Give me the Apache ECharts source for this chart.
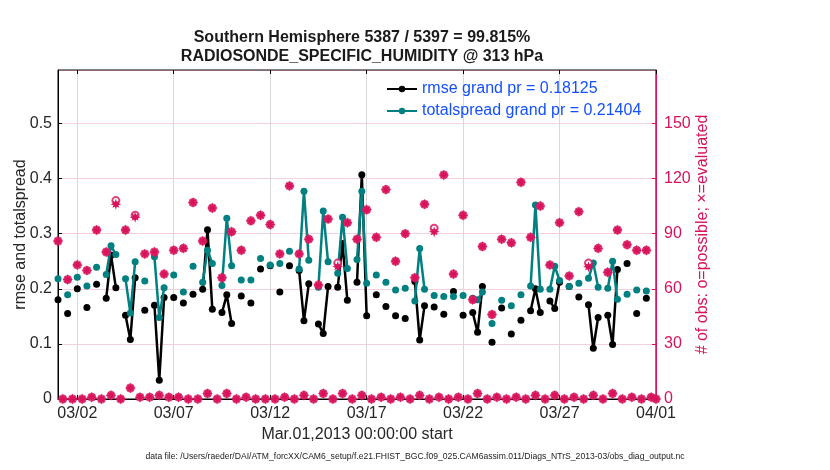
<!DOCTYPE html>
<html><head><meta charset="utf-8">
<script src="https://cdn.jsdelivr.net/npm/echarts@6/dist/echarts.min.js"></script>
<style>html,body{margin:0;padding:0;background:#fff}#c{width:830px;height:470px}</style>
</head><body><div id="c"></div>
<script>
// x axis: days since Mar.01,2013 00:00:00
const xTickDays = [1, 6, 11, 16, 21, 26, 31];
const xTickLabels = ['03/02', '03/07', '03/12', '03/17', '03/22', '03/27', '04/01'];
const leftTicks = [0, 0.1, 0.2, 0.3, 0.4, 0.5];
const rightTicks = [0, 30, 60, 90, 120, 150];

// 00Z / 12Z bins (Mar 1 00Z ... Apr 1 00Z)
const rmseMain = [0.180,0.155,0.200,0.166,0.208,0.183,0.202,0.152,0.220,0.161,
  0.170,0.184,0.184,0.174,0.190,0.199,0.163,0.157,0.137,0.187,
  0.174,0.236,0.242,0.194,0.242,0.233,0.209,0.136,0.204,0.203,
  0.179,0.212,0.151,0.189,0.168,0.151,0.146,0.213,0.169,0.167,
  0.154,0.195,0.152,0.157,0.204,0.103,0.165,0.118,0.143,0.160,
  0.157,0.178,0.212,0.204,0.185,0.171,0.148,0.152,0.235,0.246,
  0.155,0.183,null];
const spreadMain = [0.218,0.189,0.221,0.205,0.239,0.226,0.262,0.218,0.249,0.214,
  0.258,0.202,0.225,0.194,0.241,0.212,0.246,0.206,0.242,0.216,
  0.216,0.255,0.243,0.246,0.268,0.236,0.252,0.203,0.249,0.228,
  0.237,0.253,0.210,0.225,0.212,0.198,0.201,0.178,0.199,0.188,
  0.186,0.186,0.188,0.183,0.194,0.137,0.179,0.169,0.189,0.205,
  0.199,0.199,0.215,0.204,0.210,0.219,0.203,0.201,0.181,0.190,
  0.198,0.196,null];
const nEvalMain = [86,65,73,70,92,80,106,92,99,79,
  80,68,81,82,107,86,104,66,91,81,
  97,100,95,79,116,79,87,62,98,72,
  96,87,103,88,114,75,90,66,106,91,
  122,68,100,54,83,46,87,85,118,88,
  105,73,96,67,102,72,82,69,92,84,
  81,81,0];
const nPossMain = [86,65,73,70,92,80,108,92,100,79,
  80,68,81,82,107,86,104,66,91,81,
  97,100,95,79,116,79,87,62,98,74,
  96,87,103,88,114,75,90,66,106,93,
  122,68,100,54,83,46,87,85,118,88,
  105,73,96,67,102,74,82,69,92,84,
  81,81,0];

// 06Z / 18Z bins (Mar 1 06Z ... Mar 31 18Z)
const rmseOff = [null,null,null,null,null,0.261,null,0.108,null,null,
  0.034,null,null,null,null,0.307,null,0.189,null,null,
  null,null,null,null,null,0.142,null,0.119,null,0.282,
  null,0.407,null,null,null,null,null,0.107,null,null,
  null,null,null,0.121,null,null,null,null,null,0.200,
  null,0.164,null,null,null,0.092,null,0.099,null,null,
  null,null];
const spreadOff = [null,null,null,null,null,0.278,null,0.156,null,null,
  0.148,null,null,null,null,0.270,null,0.328,null,null,
  null,null,null,null,null,0.377,null,0.341,null,0.330,
  null,0.377,null,null,null,null,null,0.273,null,null,
  null,null,null,0.180,null,null,null,null,null,0.352,
  null,0.241,null,null,null,0.247,null,0.250,null,null,
  null,null];
const nEvalOff = [0,0,0,1,0,2,0,6,1,1,
  2,1,1,0,0,3,0,3,0,1,
  0,0,0,1,0,2,0,3,0,3,
  0,2,0,1,0,1,0,2,0,1,
  0,1,0,3,0,1,0,1,0,2,
  0,2,0,1,0,2,0,3,0,1,
  0,1];
const nPossOff = nEvalOff;

const binDays = 0.25;
function merge(main, off) {
  const out = [];
  const n = main.length + off.length;
  for (let k = 0; k < n; k++) {
    const v = (k % 2 === 0) ? main[k / 2] : off[(k - 1) / 2];
    out.push([k * binDays, v]);
  }
  return out;
}

const PINK = '#d8135c';
const TEAL = '#008080';
const TXT = '#262626';
const starPath = 'path://M5,0 L5.9,2.8 L8.2,1.8 L7.2,4.1 L10,5 L7.2,5.9 L8.2,8.2 L5.9,7.2 L5,10 L4.1,7.2 L1.8,8.2 L2.8,5.9 L0,5 L2.8,4.1 L1.8,1.8 L4.1,2.8 Z';

const chart = echarts.init(document.getElementById('c'), null, {renderer: 'canvas'});
const FONT = 'Liberation Sans, Arial, Helvetica, sans-serif';

chart.setOption({
  animation: false,
  backgroundColor: '#fff',
  textStyle: {fontFamily: FONT},
  title: {
    text: 'Southern Hemisphere 5387 / 5397 = 99.815%\nRADIOSONDE_SPECIFIC_HUMIDITY @ 313 hPa',
    left: 357, textAlign: 'center', top: 23,
    textStyle: {fontSize: 16, fontWeight: 'bold', color: '#1a1a1a', lineHeight: 19, fontFamily: FONT}
  },
  legend: {
    orient: 'vertical', left: 386, top: 81, itemWidth: 30, itemHeight: 8, itemGap: 6, padding: 0,
    data: ['rmse grand pr = 0.18125', 'totalspread grand pr = 0.21404'],
    textStyle: {color: '#1450ff', fontSize: 16, fontFamily: FONT}
  },
  grid: {left: 58, right: 174, top: 70, bottom: 71, show: true, borderColor: '#000', borderWidth: 1, backgroundColor: 'transparent'},
  xAxis: [{
    type: 'value', min: 0, max: 31, position: 'bottom',
    axisLine: {onZero: false, lineStyle: {color: '#000'}},
    axisTick: {inside: true, length: 4, customValues: xTickDays, lineStyle: {color: '#000'}},
    axisLabel: {customValues: xTickDays, fontSize: 16, color: TXT, margin: 7,
      formatter: v => xTickLabels[xTickDays.indexOf(Math.round(v))] || ''},
    splitLine: {show: true, lineStyle: {color: '#d9d9d9', width: 1}},
    name: 'Mar.01,2013 00:00:00 start', nameLocation: 'middle', nameGap: 28,
    nameTextStyle: {fontSize: 16, color: TXT}
  }, {
    type: 'value', min: 0, max: 31, position: 'top',
    axisLine: {show: false, onZero: false},
    axisTick: {inside: true, length: 4, customValues: xTickDays, lineStyle: {color: '#000'}},
    axisLabel: {show: false}, splitLine: {show: false}
  }],
  yAxis: [{
    type: 'value', min: 0, max: 0.597, interval: 0.1, position: 'left',
    axisLine: {show: true, onZero: false, lineStyle: {color: '#000'}},
    axisTick: {show: true, inside: true, length: 4, lineStyle: {color: '#000'}},
    axisLabel: {fontSize: 16, color: TXT, margin: 6, showMaxLabel: false,
      formatter: v => { const t = leftTicks.find(x => Math.abs(x - v) < 1e-6); return t === undefined ? '' : String(t); }},
    splitLine: {show: true, lineStyle: {color: 'rgba(216,19,92,0.2)', width: 1}},
    name: 'rmse and totalspread', nameLocation: 'middle', nameGap: 29, nameMoveOverlap: false,
    nameTextStyle: {fontSize: 16, color: TXT}
  }, {
    type: 'value', min: 0, max: 179.1, interval: 30, position: 'right',
    axisLine: {show: true, onZero: false, lineStyle: {color: PINK}},
    axisTick: {show: true, inside: true, length: 4, lineStyle: {color: PINK}},
    axisLabel: {fontSize: 16, color: PINK, margin: 8, showMaxLabel: false,
      formatter: v => { const t = rightTicks.find(x => Math.abs(x - v) < 1e-6); return t === undefined ? '' : String(t); }},
    splitLine: {show: false},
    name: '# of obs: o=possible; \u00d7=evaluated', nameLocation: 'middle', nameGap: 39, nameRotate: 90, nameMoveOverlap: false,
    nameTextStyle: {fontSize: 16, color: PINK}
  }],
  series: [{
    name: 'rmse grand pr = 0.18125', type: 'line', xAxisIndex: 0, yAxisIndex: 0,
    data: merge(rmseMain, rmseOff), connectNulls: false,
    symbol: 'circle', symbolSize: 7, showSymbol: true, showAllSymbol: true,
    lineStyle: {color: '#000', width: 2.5}, itemStyle: {color: '#000'}, z: 3
  }, {
    name: 'totalspread grand pr = 0.21404', type: 'line', xAxisIndex: 0, yAxisIndex: 0,
    data: merge(spreadMain, spreadOff), connectNulls: false,
    symbol: 'circle', symbolSize: 7, showSymbol: true, showAllSymbol: true,
    lineStyle: {color: TEAL, width: 2.5}, itemStyle: {color: TEAL}, z: 4
  }, {
    name: 'possible', type: 'scatter', xAxisIndex: 0, yAxisIndex: 1,
    data: merge(nPossMain, nPossOff),
    symbol: 'emptyCircle', symbolSize: 7,
    itemStyle: {color: PINK, borderColor: PINK, borderWidth: 1.5}, z: 5
  }, {
    name: 'evaluated', type: 'scatter', xAxisIndex: 0, yAxisIndex: 1,
    data: merge(nEvalMain, nEvalOff),
    symbol: starPath, symbolSize: 11,
    itemStyle: {color: PINK, opacity: 1}, z: 6
  }],
  graphic: [{
    type: 'text', x: 415, y: 457,
    style: {text: 'data file: /Users/raeder/DAI/ATM_forcXX/CAM6_setup/f.e21.FHIST_BGC.f09_025.CAM6assim.011/Diags_NTrS_2013-03/obs_diag_output.nc',
      font: '8.6px ' + FONT, fill: '#222', textAlign: 'center', textVerticalAlign: 'middle'}
  }]
});
</script>
</body></html>
